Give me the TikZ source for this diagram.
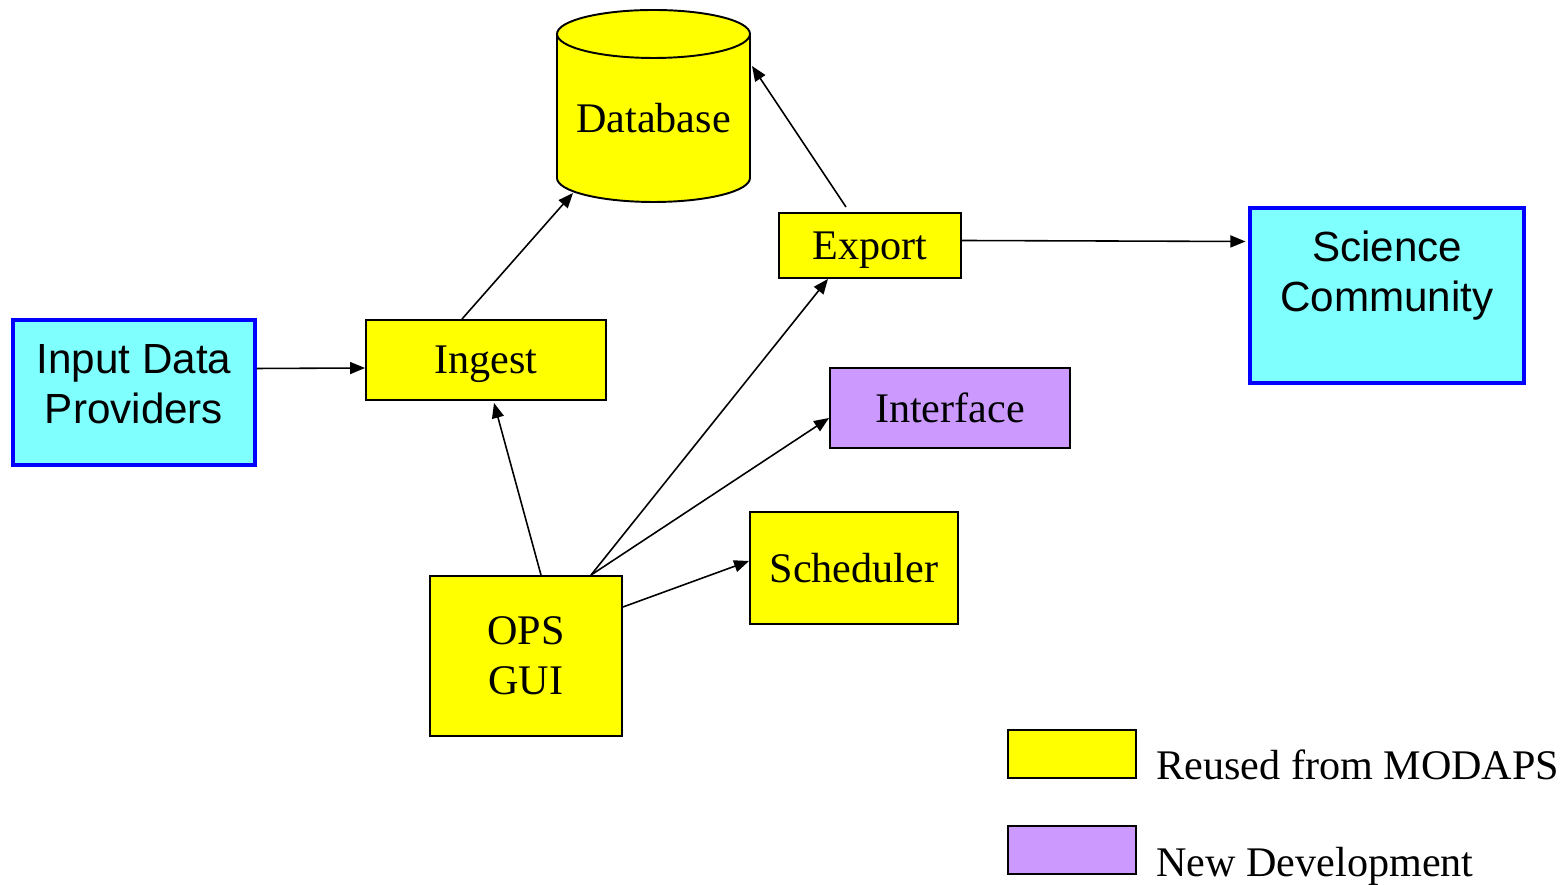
\documentclass[tikz,border=0pt]{standalone}
\usepackage{fontspec}
\setmainfont{Liberation Serif}
\newfontfamily\arialfont{Liberation Sans}
\usetikzlibrary{arrows.meta,calc}
\definecolor{reused}{HTML}{FFFF00}
\definecolor{newdev}{HTML}{CC99FF}
\definecolor{extcyan}{HTML}{80FFFF}
\begin{document}
\begin{tikzpicture}[x=0.02cm,y=0.02cm,
    font=\fontsize{24}{28.5}\selectfont,
    modbox/.style={draw, line width=1.1pt, fill=reused, align=center, inner sep=0pt},
    newbox/.style={modbox, fill=newdev},
    extbox/.style={draw=blue, line width=1.8pt, fill=extcyan, align=center, inner sep=0pt},
    sans/.style={align=center, font=\arialfont\fontsize{24}{28.5}\selectfont},
    flow/.style={line width=0.9pt, -{Triangle[length=0.3cm,width=0.24cm]}}]
    \useasboundingbox (0,0) rectangle (1566,885);

    % database cylinder
    \draw[line width=1.1pt, fill=reused] (557,851) -- (557,707)
        arc[start angle=180, end angle=360, x radius=96.5, y radius=24] -- (750,851);
    \draw[line width=1.1pt, fill=reused] (653.5,851) ellipse [x radius=96.5, y radius=24];
    \node (db) at (653.5,767) {Database};

    \node[extbox, minimum width=4.84cm, minimum height=2.9cm] (input) at (134,492.5) {};
    \node[sans] (inputtext) at ($(input)+(0,8)$) {Input Data\\Providers};
    \node[modbox, text depth=0pt, minimum width=4.8cm, minimum height=1.6cm] (ingest) at (486,525) {Ingest};
    \node[modbox, text depth=0pt, minimum width=3.64cm, minimum height=1.3cm] (export) at (870,639.5) {Export};
    \node[extbox, minimum width=5.48cm, minimum height=3.5cm] (science) at (1387,589.5) {};
    \node[sans] (scitext) at ($(science)+(0,20)$) {Science\\Community};
    \node[newbox, minimum width=4.8cm, minimum height=1.6cm] (iface) at (950,477) {Interface};
    \node[modbox, minimum width=4.16cm, minimum height=2.24cm] (sched) at (854,317) {Scheduler};
    \node[modbox, minimum width=3.84cm, minimum height=3.2cm] (ops) at (526,229) {OPS\\GUI};

    \draw[flow] ($(input.east)+(0,24)$) -- ($(ingest.west)+(0,-8)$);
    \draw[flow] ($(ingest.north)+(-24,0)$) -- ($(db)+(-80.5,-75)$);
    \draw[flow] ($(export.north)+(-24,5)$) -- ($(db)+(98.5,52)$);
    \draw[flow] ($(export.east)+(0,5)$) -- ($(science.west)+(-3,54)$);
    \draw[flow] ($(ops.north)+(15,0)$) -- ($(ingest.south)+(8,-2)$);
    \draw[flow] ($(ops.north)+(65,0)$) -- ($(export.south)+(-42,0)$);
    \draw[flow] ($(ops.north)+(65,0)$) -- ($(iface.west)+(0,-10)$);
    \draw[flow] ($(ops.east)+(0,49)$) -- ($(sched.west)+(0,7)$);

    % key
    \node[modbox, minimum width=2.56cm, minimum height=0.96cm] (keyreused) at (1072,131) {};
    \node[anchor=base west, inner xsep=0pt] (keyreusedtxt) at (1156,105) {Reused from MODAPS};
    \node[newbox, minimum width=2.56cm, minimum height=0.96cm] (keynew) at (1072,35) {};
    \node[anchor=base west, inner xsep=0pt] (keynewtxt) at (1156,8) {New Development};
\end{tikzpicture}
\end{document}
